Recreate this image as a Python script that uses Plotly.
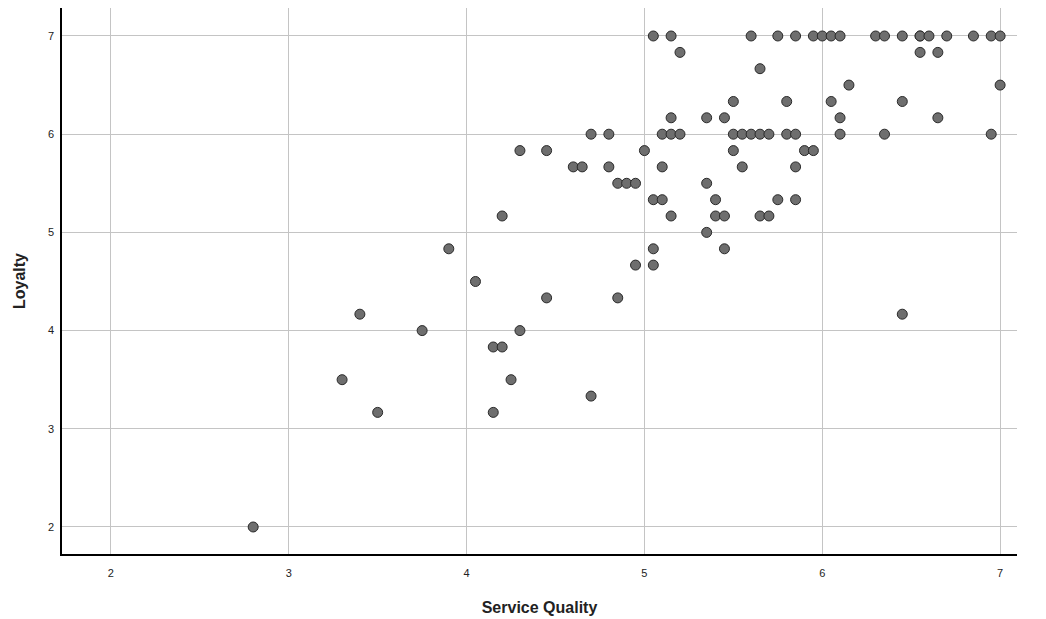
import plotly.graph_objects as go

# Data
service_quality = [
    # Loyalty 7.00
    5.05, 5.15, 5.60, 5.75, 5.85, 5.95, 6.00, 6.05, 6.10, 6.30, 6.35, 6.45, 6.55, 6.55, 6.60, 6.70, 6.85, 6.95, 7.00,
    # 6.83
    5.20, 6.55, 6.65,
    # 6.67
    5.65,
    # 6.50
    6.15, 7.00,
    # 6.33
    5.50, 5.80, 6.05, 6.45,
    # 6.17
    5.15, 5.35, 5.45, 6.10, 6.65,
    # 6.00
    4.70, 4.80, 5.10, 5.15, 5.20, 5.50, 5.55, 5.60, 5.65, 5.70, 5.80, 5.85, 6.10, 6.35, 6.95,
    # 5.83
    4.30, 4.45, 5.00, 5.50, 5.90, 5.95,
    # 5.67
    4.60, 4.65, 4.80, 5.10, 5.55, 5.85,
    # 5.50
    4.85, 4.90, 4.95, 5.35,
    # 5.33
    5.05, 5.10, 5.40, 5.75, 5.85,
    # 5.17
    4.20, 5.15, 5.40, 5.45, 5.65, 5.70,
    # 5.00
    5.35,
    # 4.83
    3.90, 5.05, 5.45,
    # 4.67
    4.95, 5.05,
    # 4.50
    4.05,
    # 4.33
    4.45, 4.85,
    # 4.17
    3.40, 6.45,
    # 4.00
    3.75, 4.30,
    # 3.83
    4.15, 4.20,
    # 3.50
    3.30, 4.25,
    # 3.33
    4.70,
    # 3.17
    3.50, 4.15,
    # 2.00
    2.80,
]

loyalty = (
    [7.0] * 19 + [6.833] * 3 + [6.667] * 1 + [6.5] * 2 + [6.333] * 4 + [6.167] * 5
    + [6.0] * 15 + [5.833] * 6 + [5.667] * 6 + [5.5] * 4 + [5.333] * 5 + [5.167] * 6
    + [5.0] * 1 + [4.833] * 3 + [4.667] * 2 + [4.5] * 1 + [4.333] * 2 + [4.167] * 2
    + [4.0] * 2 + [3.833] * 2 + [3.5] * 2 + [3.333] * 1 + [3.167] * 2 + [2.0] * 1
)

tick_vals = [2, 3, 4, 5, 6, 7]
tick_text = ["2", "3", "4", "5", "6", "7"]

fig = go.Figure()
fig.add_trace(go.Scatter(
    x=service_quality,
    y=loyalty,
    mode="markers",
    marker=dict(size=10, color="#6e6e6e", line=dict(color="#2a2a2a", width=1)),
    showlegend=False,
))

axis_common = dict(
    tickvals=tick_vals,
    ticktext=tick_text,
    showgrid=True,
    gridcolor="#c4c4c4",
    gridwidth=1,
    zeroline=False,
    showline=True,
    linecolor="#000000",
    linewidth=1.5,
    ticks="",
    tickfont=dict(family="Liberation Sans, Arial", size=11, color="#222222"),
)

fig.update_layout(
    width=1046,
    height=619,
    margin=dict(l=54, r=37, t=0, b=73),
    paper_bgcolor="white",
    plot_bgcolor="white",
    xaxis=dict(
        range=[1.725, 7.095],
        ticklabelstandoff=8,
        title=dict(text="<b>Service Quality</b>", font=dict(family="Liberation Sans, Arial", size=16, color="#222222"), standoff=24),
        **axis_common,
    ),
    yaxis=dict(
        range=[1.725, 7.285],
        ticklabelstandoff=4,
        title=dict(text="<b>Loyalty</b>", font=dict(family="Liberation Sans, Arial", size=16, color="#222222"), standoff=18),
        **axis_common,
    ),
)

fig.write_html("out.html")
